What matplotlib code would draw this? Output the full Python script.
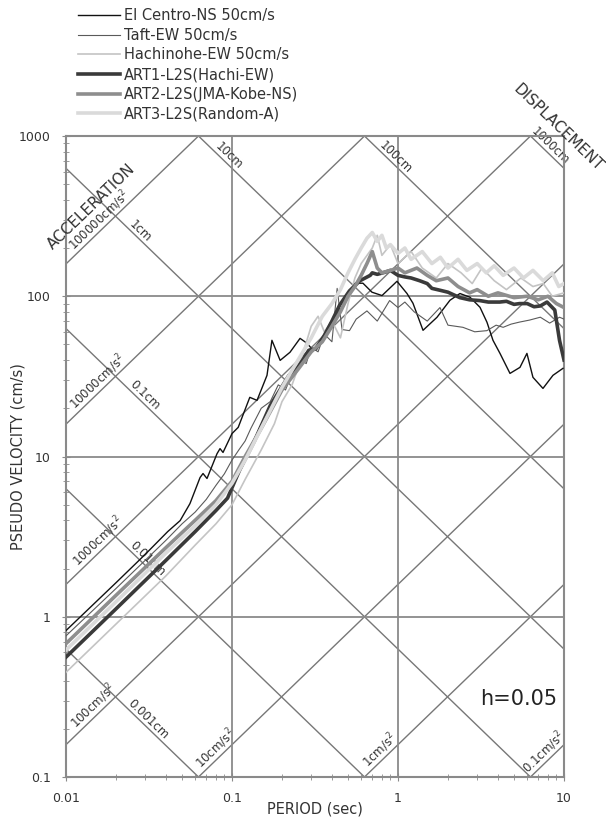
import numpy as np
import matplotlib
matplotlib.use('Agg')
from matplotlib import pyplot as plt

# --- spectra (period [s], pseudo velocity [cm/s]) ---
T_elc = [0.01, 0.02, 0.03, 0.041, 0.0487, 0.0558, 0.0642, 0.0669, 0.0707, 0.0812,
         0.0847, 0.0883, 0.1, 0.109, 0.128, 0.1415, 0.1625, 0.174, 0.195, 0.2235,
         0.257, 0.283, 0.308, 0.353, 0.389, 0.448, 0.514, 0.551, 0.615, 0.697,
         0.801, 0.986, 1.133, 1.231, 1.415, 1.717, 2.056, 2.361, 2.715, 3.119,
         3.436, 3.734, 4.115, 4.727, 5.43, 5.98, 6.5, 7.47, 8.58, 9.86]
Sv_elc = [0.82, 1.63, 2.45, 3.4, 3.98, 5.08, 7.39, 7.83, 7.29, 10.4,
          11.2, 10.6, 13.9, 15.2, 23.4, 22.4, 32.1, 53.1, 39.8, 44.7,
          54.6, 50.9, 46.0, 55.4, 67.8, 81.8, 104, 120.6, 120.6, 106,
          101, 124, 104, 90.4, 61.3, 73.9, 94.4, 104, 98.6, 85.3,
          68.8, 53.1, 44.0, 33.0, 36.0, 44.0, 31.2, 26.6, 32.1, 35.5]

T_taft = [0.01, 0.02, 0.04, 0.05, 0.06, 0.07, 0.08, 0.09, 0.1, 0.11,
          0.12, 0.13, 0.15, 0.17, 0.19, 0.21, 0.23, 0.26, 0.28, 0.3,
          0.33, 0.36, 0.4, 0.43, 0.46, 0.51, 0.56, 0.65, 0.75, 0.89,
          1.0, 1.1, 1.25, 1.5, 1.79, 2.0, 2.46, 2.9, 3.43, 3.9,
          4.3, 4.8, 5.4, 6.2, 7.2, 8.2, 9.4, 10.0]
Sv_taft = [0.76, 1.5, 3.0, 3.8, 4.5, 5.4, 6.6, 7.8, 9.5, 11,
           12.5, 15, 20, 22, 28, 26, 33, 40, 38, 48,
           45, 58, 52, 112, 62, 61, 72, 81, 70, 94,
           85, 92, 80, 70, 85, 66, 64, 60, 61, 66,
           64, 67, 69, 71, 74, 68, 74, 72]

T_hachi = [0.01, 0.02, 0.04, 0.06, 0.08, 0.1, 0.12, 0.15, 0.18, 0.2,
           0.23, 0.26, 0.3, 0.33, 0.36, 0.4, 0.45, 0.5, 0.55, 0.6,
           0.7, 0.75, 0.8, 0.9, 1.0, 1.2, 1.4, 1.7, 2.0, 2.4,
           2.8, 3.2, 3.8, 4.5, 5.5, 6.5, 7.5, 8.5, 10.0]
Sv_hachi = [0.45, 0.9, 1.8, 2.8, 3.8, 5.0, 7.2, 11, 16, 22,
            28, 40, 65, 75, 60, 70, 55, 90, 130, 160,
            200, 240, 180, 210, 160, 190, 150, 130, 160, 140,
            120, 150, 125, 110, 130, 115, 120, 100, 105]

T_art1 = [0.01, 0.02, 0.04, 0.06, 0.08, 0.094, 0.111, 0.137, 0.17, 0.22,
          0.25, 0.29, 0.32, 0.36, 0.4, 0.445, 0.51, 0.59, 0.68, 0.7,
          0.75, 0.83, 0.9, 1.0, 1.1, 1.2, 1.35, 1.5, 1.6, 1.79,
          2.0, 2.36, 2.7, 3.1, 3.5, 4.1, 4.5, 5.0, 5.4, 6.0,
          6.6, 7.2, 7.9, 8.8, 9.4, 10.0]
Sv_art1 = [0.56, 1.12, 2.25, 3.4, 4.6, 5.5, 8.2, 12.6, 20.8, 32,
           36, 46, 47, 57, 70, 88, 108, 125, 135, 140,
           137, 141, 145, 135, 132, 130, 125, 120, 112, 109,
           106, 98, 95, 94, 92, 92, 93, 89, 90, 90,
           86, 87, 92, 82, 53, 40]

T_art2 = [0.01, 0.02, 0.04, 0.06, 0.08, 0.1, 0.12, 0.15, 0.2, 0.25,
          0.3, 0.35, 0.4, 0.45, 0.5, 0.55, 0.6, 0.65, 0.7, 0.75,
          0.8, 0.9, 1.0, 1.1, 1.3, 1.5, 1.7, 2.0, 2.3, 2.7,
          3.0, 3.5, 4.0, 5.0, 6.0, 7.0, 8.0, 9.0, 10.0]
Sv_art2 = [0.68, 1.36, 2.7, 4.0, 5.3, 7.0, 10, 15, 26, 35,
           45, 52, 65, 80, 100, 115, 135, 160, 190, 150,
           140, 145, 150, 140, 150, 135, 125, 130, 115, 105,
           110, 100, 105, 98, 100, 95, 100, 90, 85]

T_art3 = [0.01, 0.02, 0.04, 0.06, 0.08, 0.1, 0.12, 0.15, 0.2, 0.25,
          0.3, 0.35, 0.4, 0.45, 0.5, 0.55, 0.6, 0.65, 0.7, 0.75,
          0.8, 0.85, 0.9, 1.0, 1.1, 1.2, 1.4, 1.6, 1.8, 2.0,
          2.3, 2.6, 3.0, 3.4, 3.8, 4.3, 5.0, 5.7, 6.5, 7.5,
          8.5, 9.3, 10.0]
Sv_art3 = [0.62, 1.24, 2.5, 3.7, 5.0, 6.8, 9.5, 15, 27, 40,
           55, 75, 90, 110, 140, 170, 200, 230, 250, 220,
           240, 200, 210, 185, 200, 170, 190, 160, 175, 150,
           170, 145, 160, 140, 155, 135, 150, 130, 145, 125,
           140, 115, 120]

names = ['El Centro-NS 50cm/s', 'Taft-EW 50cm/s', 'Hachinohe-EW 50cm/s',
         'ART1-L2S(Hachi-EW)', 'ART2-L2S(JMA-Kobe-NS)', 'ART3-L2S(Random-A)']
colors = ['#111111', '#5a5a5a', '#c4c4c4', '#3a3a3a', '#8e8e8e', '#dadada']
widths = [1.0, 0.8, 1.2, 2.6, 2.6, 2.6]

# tripartite grid
accel_levels = [0.1, 1, 10, 100, 1000, 10000, 100000]
accel_texts = ['0.1cm/s$^2$', '1cm/s$^2$', '10cm/s$^2$', '100cm/s$^2$',
               '1000cm/s$^2$', '10000cm/s$^2$', '100000cm/s$^2$']
accel_label_T = [8.2, 0.85, 0.087, 0.016, 0.017, 0.0169, 0.0172]
disp_levels = [0.001, 0.01, 0.1, 1, 10, 100, 1000]
disp_texts = ['0.001cm', '0.01cm', '0.1cm', '1cm', '10cm', '100cm', '1000cm']
disp_label_T = [0.0295, 0.0291, 0.0279, 0.0264, 0.0896, 0.908, 7.8]

W, H = 606, 822
fig = plt.figure(figsize=(W / 100, H / 100), dpi=100)
ax = fig.add_axes([66 / W, 1 - 777 / H, 498 / W, 641 / H])
ax.set_xscale('log')
ax.set_yscale('log')
ax.set_xlim(0.01, 10)
ax.set_ylim(0.1, 1000)

gc = '#8a8a8a'
tc = '#333333'
ax.grid(which='major', color=gc, lw=1.3)
for s in ax.spines.values():
    s.set_color(gc)
    s.set_linewidth(1.5)

Tl = np.array([0.001, 100.0])
ang = np.degrees(np.arctan((641 / 4) / (498 / 3)))
for a, txt, tt in zip(accel_levels, accel_texts, accel_label_T):
    ax.plot(Tl, a * Tl / (2 * np.pi), color='#777777', lw=1.0, zorder=1)
    ax.text(tt, a * tt / (2 * np.pi), txt, rotation=ang, rotation_mode='anchor',
            ha='center', va='bottom', fontsize=8.5, color=tc, zorder=2)
for d, txt, tt in zip(disp_levels, disp_texts, disp_label_T):
    ax.plot(Tl, 2 * np.pi * d / Tl, color='#777777', lw=1.0, zorder=1)
    ax.text(tt, 2 * np.pi * d / tt, txt, rotation=-ang, rotation_mode='anchor',
            ha='center', va='bottom', fontsize=8.5, color=tc, zorder=2)

ax.text(0.01415, 365, 'ACCELERATION', rotation=ang, ha='center', va='center',
        fontsize=11, color=tc)
ax.text(9.2, 1122, 'DISPLACEMENT', rotation=-ang, ha='center', va='center',
        fontsize=11, color=tc, clip_on=False)

series = [(T_elc, Sv_elc), (T_taft, Sv_taft), (T_hachi, Sv_hachi),
          (T_art1, Sv_art1), (T_art2, Sv_art2), (T_art3, Sv_art3)]
handles = []
for (t, v), nm, c, w in zip(series, names, colors, widths):
    h, = ax.plot(t, v, color=c, lw=w, label=nm, zorder=3)
    handles.append(h)

ax.set_xticks([0.01, 0.1, 1, 10])
ax.set_xticklabels(['0.01', '0.1', '1', '10'])
ax.set_yticks([0.1, 1, 10, 100, 1000])
ax.set_yticklabels(['0.1', '1', '10', '100', '1000'])
ax.tick_params(which='both', direction='inout', color=gc, labelcolor=tc, labelsize=9)
ax.tick_params(which='major', length=6, pad=8)
ax.tick_params(which='minor', length=5)

ax.set_xlabel('PERIOD (sec)', fontsize=10.5, color=tc)
ax.xaxis.set_label_coords(0.5, -0.038)
ax.set_ylabel('PSEUDO VELOCITY (cm/s)', fontsize=10.5, color=tc)
ax.yaxis.set_label_coords(-0.082, 0.5)

ax.text(0.831, 0.122, 'h=0.05', transform=ax.transAxes, fontsize=15,
        color='#222222', ha='left', va='center')

fig.legend(handles=handles, loc='upper left', bbox_to_anchor=(78 / W, 1 - 8 / H),
           frameon=False, fontsize=10.5, handlelength=2.9, handletextpad=0.25,
           labelspacing=0.32, borderpad=0, borderaxespad=0, labelcolor=tc)

fig.savefig('out.png', dpi=100)
